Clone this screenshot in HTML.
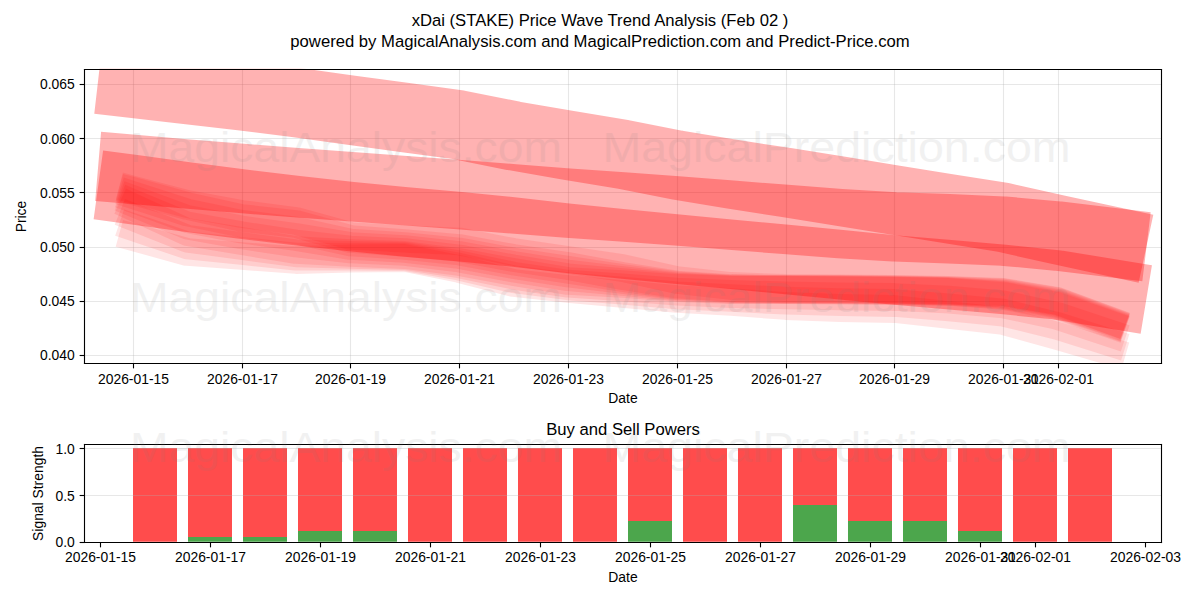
<!DOCTYPE html>
<html><head><meta charset="utf-8"><title>xDai (STAKE) Price Wave Trend Analysis</title>
<style>html,body{margin:0;padding:0;background:#fff;font-family:"Liberation Sans",sans-serif}body{width:1200px;height:600px;overflow:hidden}</style>
</head><body><svg width="1200" height="600" viewBox="0 0 864 432" style="display:block"><defs><style type="text/css">*{stroke-linejoin: round; stroke-linecap: butt}</style></defs><g id="figure_1"><g id="patch_1"><path d="M 0 432 L 864 432 L 864 0 L 0 0 z " style="fill: #ffffff"/></g><g id="axes_1"><g id="patch_2"><path d="M 60.3216 261.3816 L 835.92 261.3816 L 835.92 49.536 L 60.3216 49.536 z " style="fill: #ffffff"/></g><g id="matplotlib.axis_1"><g id="xtick_1"><g id="line2d_1"><path d="M 96.1200 261.7200 L 96.1200 50.0400" clip-path="url(#p194def67d9)" style="fill: none; stroke: #b0b0b0; stroke-opacity: 0.3; stroke-width: 0.8; stroke-linecap: square"/></g><g id="line2d_2"><defs><path id="m1504cfccaf" d="M 0 0 L 0 3.5 " style="stroke: #000000; stroke-width: 0.8"/></defs><g><use href="#m1504cfccaf" x="96.1200" y="261.7200" style="stroke: #000000; stroke-width: 0.8"/></g></g><g id="T_a1_xt0"><text x="96.12" y="276.48" text-anchor="middle" font-family="Liberation Sans, sans-serif" font-size="10" fill="#000" stroke="none">2026-01-15</text></g></g><g id="xtick_2"><g id="line2d_3"><path d="M 174.6000 261.7200 L 174.6000 50.0400" clip-path="url(#p194def67d9)" style="fill: none; stroke: #b0b0b0; stroke-opacity: 0.3; stroke-width: 0.8; stroke-linecap: square"/></g><g id="line2d_4"><g><use href="#m1504cfccaf" x="174.6000" y="261.7200" style="stroke: #000000; stroke-width: 0.8"/></g></g><g id="T_a1_xt1"><text x="174.6" y="276.48" text-anchor="middle" font-family="Liberation Sans, sans-serif" font-size="10" fill="#000" stroke="none">2026-01-17</text></g></g><g id="xtick_3"><g id="line2d_5"><path d="M 252.3600 261.7200 L 252.3600 50.0400" clip-path="url(#p194def67d9)" style="fill: none; stroke: #b0b0b0; stroke-opacity: 0.3; stroke-width: 0.8; stroke-linecap: square"/></g><g id="line2d_6"><g><use href="#m1504cfccaf" x="252.3600" y="261.7200" style="stroke: #000000; stroke-width: 0.8"/></g></g><g id="T_a1_xt2"><text x="252.36" y="276.48" text-anchor="middle" font-family="Liberation Sans, sans-serif" font-size="10" fill="#000" stroke="none">2026-01-19</text></g></g><g id="xtick_4"><g id="line2d_7"><path d="M 330.8400 261.7200 L 330.8400 50.0400" clip-path="url(#p194def67d9)" style="fill: none; stroke: #b0b0b0; stroke-opacity: 0.3; stroke-width: 0.8; stroke-linecap: square"/></g><g id="line2d_8"><g><use href="#m1504cfccaf" x="330.8400" y="261.7200" style="stroke: #000000; stroke-width: 0.8"/></g></g><g id="T_a1_xt3"><text x="330.84" y="276.48" text-anchor="middle" font-family="Liberation Sans, sans-serif" font-size="10" fill="#000" stroke="none">2026-01-21</text></g></g><g id="xtick_5"><g id="line2d_9"><path d="M 409.3200 261.7200 L 409.3200 50.0400" clip-path="url(#p194def67d9)" style="fill: none; stroke: #b0b0b0; stroke-opacity: 0.3; stroke-width: 0.8; stroke-linecap: square"/></g><g id="line2d_10"><g><use href="#m1504cfccaf" x="409.3200" y="261.7200" style="stroke: #000000; stroke-width: 0.8"/></g></g><g id="T_a1_xt4"><text x="409.32" y="276.48" text-anchor="middle" font-family="Liberation Sans, sans-serif" font-size="10" fill="#000" stroke="none">2026-01-23</text></g></g><g id="xtick_6"><g id="line2d_11"><path d="M 487.8000 261.7200 L 487.8000 50.0400" clip-path="url(#p194def67d9)" style="fill: none; stroke: #b0b0b0; stroke-opacity: 0.3; stroke-width: 0.8; stroke-linecap: square"/></g><g id="line2d_12"><g><use href="#m1504cfccaf" x="487.8000" y="261.7200" style="stroke: #000000; stroke-width: 0.8"/></g></g><g id="T_a1_xt5"><text x="487.8" y="276.48" text-anchor="middle" font-family="Liberation Sans, sans-serif" font-size="10" fill="#000" stroke="none">2026-01-25</text></g></g><g id="xtick_7"><g id="line2d_13"><path d="M 566.2800 261.7200 L 566.2800 50.0400" clip-path="url(#p194def67d9)" style="fill: none; stroke: #b0b0b0; stroke-opacity: 0.3; stroke-width: 0.8; stroke-linecap: square"/></g><g id="line2d_14"><g><use href="#m1504cfccaf" x="566.2800" y="261.7200" style="stroke: #000000; stroke-width: 0.8"/></g></g><g id="T_a1_xt6"><text x="566.28" y="276.48" text-anchor="middle" font-family="Liberation Sans, sans-serif" font-size="10" fill="#000" stroke="none">2026-01-27</text></g></g><g id="xtick_8"><g id="line2d_15"><path d="M 644.0400 261.7200 L 644.0400 50.0400" clip-path="url(#p194def67d9)" style="fill: none; stroke: #b0b0b0; stroke-opacity: 0.3; stroke-width: 0.8; stroke-linecap: square"/></g><g id="line2d_16"><g><use href="#m1504cfccaf" x="644.0400" y="261.7200" style="stroke: #000000; stroke-width: 0.8"/></g></g><g id="T_a1_xt7"><text x="644.04" y="276.48" text-anchor="middle" font-family="Liberation Sans, sans-serif" font-size="10" fill="#000" stroke="none">2026-01-29</text></g></g><g id="xtick_9"><g id="line2d_17"><path d="M 722.5200 261.7200 L 722.5200 50.0400" clip-path="url(#p194def67d9)" style="fill: none; stroke: #b0b0b0; stroke-opacity: 0.3; stroke-width: 0.8; stroke-linecap: square"/></g><g id="line2d_18"><g><use href="#m1504cfccaf" x="722.5200" y="261.7200" style="stroke: #000000; stroke-width: 0.8"/></g></g><g id="T_a1_xt8"><text x="722.52" y="276.48" text-anchor="middle" font-family="Liberation Sans, sans-serif" font-size="10" fill="#000" stroke="none">2026-01-31</text></g></g><g id="xtick_10"><g id="line2d_19"><path d="M 762.1200 261.7200 L 762.1200 50.0400" clip-path="url(#p194def67d9)" style="fill: none; stroke: #b0b0b0; stroke-opacity: 0.3; stroke-width: 0.8; stroke-linecap: square"/></g><g id="line2d_20"><g><use href="#m1504cfccaf" x="762.1200" y="261.7200" style="stroke: #000000; stroke-width: 0.8"/></g></g><g id="T_a1_xt9"><text x="762.12" y="276.48" text-anchor="middle" font-family="Liberation Sans, sans-serif" font-size="10" fill="#000" stroke="none">2026-02-01</text></g></g><g id="T_a1_xl"><text x="448.56" y="290.16" text-anchor="middle" font-family="Liberation Sans, sans-serif" font-size="10" fill="#000" stroke="none">Date</text></g></g><g id="matplotlib.axis_2"><g id="ytick_1"><g id="line2d_21"><path d="M 60.8400 255.9600 L 836.2800 255.9600" clip-path="url(#p194def67d9)" style="fill: none; stroke: #b0b0b0; stroke-opacity: 0.3; stroke-width: 0.8; stroke-linecap: square"/></g><g id="line2d_22"><defs><path id="m5d545ce8f8" d="M 0 0 L -3.5 0 " style="stroke: #000000; stroke-width: 0.8"/></defs><g><use href="#m5d545ce8f8" x="60.8400" y="255.9600" style="stroke: #000000; stroke-width: 0.8"/></g></g><g id="T_a1_yt1"><text x="53.8" y="259.2" text-anchor="end" font-family="Liberation Sans, sans-serif" font-size="10" fill="#000" stroke="none">0.040</text></g></g><g id="ytick_2"><g id="line2d_23"><path d="M 60.8400 217.0800 L 836.2800 217.0800" clip-path="url(#p194def67d9)" style="fill: none; stroke: #b0b0b0; stroke-opacity: 0.3; stroke-width: 0.8; stroke-linecap: square"/></g><g id="line2d_24"><g><use href="#m5d545ce8f8" x="60.8400" y="217.0800" style="stroke: #000000; stroke-width: 0.8"/></g></g><g id="T_a1_yt2"><text x="53.8" y="220.32" text-anchor="end" font-family="Liberation Sans, sans-serif" font-size="10" fill="#000" stroke="none">0.045</text></g></g><g id="ytick_3"><g id="line2d_25"><path d="M 60.8400 178.2000 L 836.2800 178.2000" clip-path="url(#p194def67d9)" style="fill: none; stroke: #b0b0b0; stroke-opacity: 0.3; stroke-width: 0.8; stroke-linecap: square"/></g><g id="line2d_26"><g><use href="#m5d545ce8f8" x="60.8400" y="178.2000" style="stroke: #000000; stroke-width: 0.8"/></g></g><g id="T_a1_yt3"><text x="53.8" y="181.44" text-anchor="end" font-family="Liberation Sans, sans-serif" font-size="10" fill="#000" stroke="none">0.050</text></g></g><g id="ytick_4"><g id="line2d_27"><path d="M 60.8400 138.6000 L 836.2800 138.6000" clip-path="url(#p194def67d9)" style="fill: none; stroke: #b0b0b0; stroke-opacity: 0.3; stroke-width: 0.8; stroke-linecap: square"/></g><g id="line2d_28"><g><use href="#m5d545ce8f8" x="60.8400" y="138.6000" style="stroke: #000000; stroke-width: 0.8"/></g></g><g id="T_a1_yt4"><text x="53.8" y="142.56" text-anchor="end" font-family="Liberation Sans, sans-serif" font-size="10" fill="#000" stroke="none">0.055</text></g></g><g id="ytick_5"><g id="line2d_29"><path d="M 60.8400 99.7200 L 836.2800 99.7200" clip-path="url(#p194def67d9)" style="fill: none; stroke: #b0b0b0; stroke-opacity: 0.3; stroke-width: 0.8; stroke-linecap: square"/></g><g id="line2d_30"><g><use href="#m5d545ce8f8" x="60.8400" y="99.7200" style="stroke: #000000; stroke-width: 0.8"/></g></g><g id="T_a1_yt5"><text x="53.8" y="103.68" text-anchor="end" font-family="Liberation Sans, sans-serif" font-size="10" fill="#000" stroke="none">0.060</text></g></g><g id="ytick_6"><g id="line2d_31"><path d="M 60.8400 60.8400 L 836.2800 60.8400" clip-path="url(#p194def67d9)" style="fill: none; stroke: #b0b0b0; stroke-opacity: 0.3; stroke-width: 0.8; stroke-linecap: square"/></g><g id="line2d_32"><g><use href="#m5d545ce8f8" x="60.8400" y="60.8400" style="stroke: #000000; stroke-width: 0.8"/></g></g><g id="T_a1_yt6"><text x="53.8" y="64.08" text-anchor="end" font-family="Liberation Sans, sans-serif" font-size="10" fill="#000" stroke="none">0.065</text></g></g><g id="T_a1_yl"><text transform="translate(18.72 155.9) rotate(-90)" text-anchor="middle" font-family="Liberation Sans, sans-serif" font-size="10" fill="#000" stroke="none">Price</text></g></g><g id="line2d_33"><path d="M 95.576073 59.930262 L 134.747709 64.443429 L 173.919345 68.946104 L 213.090982 73.824271 L 252.262618 79.345571 L 291.434255 84.573352 L 330.605891 89.969228 L 369.777527 97.812089 L 408.949164 104.614226 L 448.1208 111.077993 L 487.292436 118.832872 L 526.464073 125.307555 L 565.635709 131.354681 L 604.807345 137.618786 L 643.978982 144.004295 L 683.150618 150.361769 L 722.322255 156.528571 L 761.493891 165.36117 L 800.665527 173.839656 " clip-path="url(#p194def67d9)" style="fill: none; stroke: #ff0000; stroke-opacity: 0.3; stroke-width: 50; stroke-linecap: square"/></g><g id="line2d_34"><path d="M 95.576073 121.933262 L 134.747709 125.276407 L 173.919345 128.491662 L 213.090982 131.562518 L 252.262618 134.451565 L 291.434255 137.27429 L 330.605891 140.179947 L 369.777527 143.184057 L 408.949164 146.177196 L 448.1208 149.034059 L 487.292436 151.800999 L 526.464073 154.910886 L 565.635709 158.018857 L 604.807345 160.98553 L 643.978982 163.369147 L 683.150618 164.74936 L 722.322255 166.372302 L 761.493891 169.982876 L 800.665527 174.71823 " clip-path="url(#p194def67d9)" style="fill: none; stroke: #ff0000; stroke-opacity: 0.3; stroke-width: 50; stroke-linecap: square"/></g><g id="line2d_35"><path d="M 95.576073 136.45482 L 134.747709 141.854908 L 173.919345 146.86629 L 213.090982 151.513912 L 252.262618 155.822723 L 291.434255 159.756604 L 330.605891 163.149815 L 369.777527 167.038006 L 408.949164 171.460108 L 448.1208 175.569881 L 487.292436 179.337842 L 526.464073 183.032171 L 565.635709 186.71136 L 604.807345 190.561449 L 643.978982 194.394356 L 683.150618 197.781984 L 722.322255 201.207687 L 761.493891 205.17531 L 800.665527 211.642357 " clip-path="url(#p194def67d9)" style="fill: none; stroke: #ff0000; stroke-opacity: 0.3; stroke-width: 50; stroke-linecap: square"/></g><g id="line2d_36"><path d="M 95.576073 136.512 L 134.747709 146.88 L 173.919345 154.08 L 213.090982 159.12 L 252.262618 169.92 L 291.434255 172.08 L 330.605891 173.88 L 369.777527 181.44 L 408.949164 187.2 L 448.1208 192.96 L 487.292436 201.6 L 526.464073 205.92 L 565.635709 207.36 L 604.807345 207.72 L 643.978982 208.08 L 683.150618 208.8 L 722.322255 210.24 L 761.493891 216.72 L 800.665527 231.12 " clip-path="url(#p194def67d9)" style="fill: none; stroke: #ff0000; stroke-opacity: 0.1; stroke-width: 20; stroke-linecap: square"/></g><g id="line2d_37"><path d="M 95.576073 137.52 L 134.747709 148.32 L 173.919345 156.96 L 213.090982 161.28 L 252.262618 172.08 L 291.434255 174.96 L 330.605891 178.56 L 369.777527 185.76 L 408.949164 191.52 L 448.1208 198.72 L 487.292436 204.84 L 526.464073 207.36 L 565.635709 208.08 L 604.807345 208.08 L 643.978982 208.44 L 683.150618 209.16 L 722.322255 210.6 L 761.493891 217.08 L 800.665527 231.48 " clip-path="url(#p194def67d9)" style="fill: none; stroke: #ff0000; stroke-opacity: 0.1; stroke-width: 20; stroke-linecap: square"/></g><g id="line2d_38"><path d="M 95.576073 140.4 L 134.747709 153 L 173.919345 161.1 L 213.090982 165.96 L 252.262618 174.6 L 291.434255 177.12 L 330.605891 181.08 L 369.777527 188.28 L 408.949164 194.22 L 448.1208 200.16 L 487.292436 205.47 L 526.464073 207.72 L 565.635709 208.26 L 604.807345 208.35 L 643.978982 208.71 L 683.150618 209.43 L 722.322255 211.23 L 761.493891 217.89 L 800.665527 232.11 " clip-path="url(#p194def67d9)" style="fill: none; stroke: #ff0000; stroke-opacity: 0.1; stroke-width: 20; stroke-linecap: square"/></g><g id="line2d_39"><path d="M 95.576073 143.28 L 134.747709 157.68 L 173.919345 165.24 L 213.090982 170.64 L 252.262618 177.12 L 291.434255 179.28 L 330.605891 183.6 L 369.777527 190.8 L 408.949164 196.92 L 448.1208 201.6 L 487.292436 206.1 L 526.464073 208.08 L 565.635709 208.44 L 604.807345 208.62 L 643.978982 208.98 L 683.150618 209.7 L 722.322255 211.86 L 761.493891 218.7 L 800.665527 232.74 " clip-path="url(#p194def67d9)" style="fill: none; stroke: #ff0000; stroke-opacity: 0.1; stroke-width: 20; stroke-linecap: square"/></g><g id="line2d_40"><path d="M 95.576073 146.16 L 134.747709 162.36 L 173.919345 169.38 L 213.090982 175.32 L 252.262618 179.64 L 291.434255 181.44 L 330.605891 186.12 L 369.777527 193.32 L 408.949164 199.62 L 448.1208 203.04 L 487.292436 206.73 L 526.464073 208.44 L 565.635709 208.62 L 604.807345 208.89 L 643.978982 209.25 L 683.150618 209.97 L 722.322255 212.49 L 761.493891 219.51 L 800.665527 233.37 " clip-path="url(#p194def67d9)" style="fill: none; stroke: #ff0000; stroke-opacity: 0.1; stroke-width: 20; stroke-linecap: square"/></g><g id="line2d_41"><path d="M 95.576073 149.04 L 134.747709 167.04 L 173.919345 173.52 L 213.090982 180 L 252.262618 182.16 L 291.434255 183.6 L 330.605891 188.64 L 369.777527 195.84 L 408.949164 202.32 L 448.1208 204.48 L 487.292436 207.36 L 526.464073 208.8 L 565.635709 208.8 L 604.807345 209.16 L 643.978982 209.52 L 683.150618 210.24 L 722.322255 213.12 L 761.493891 220.32 L 800.665527 234 " clip-path="url(#p194def67d9)" style="fill: none; stroke: #ff0000; stroke-opacity: 0.1; stroke-width: 20; stroke-linecap: square"/></g><g id="line2d_42"><path d="M 95.576073 156.24 L 134.747709 171.84 L 173.919345 177.12 L 213.090982 182.4 L 252.262618 183.48 L 291.434255 184.32 L 330.605891 190.32 L 369.777527 198.48 L 408.949164 204.24 L 448.1208 206.88 L 487.292436 210 L 526.464073 211.68 L 565.635709 212.64 L 604.807345 213.36 L 643.978982 213.84 L 683.150618 215.76 L 722.322255 219.12 L 761.493891 227.52 L 800.665527 240.48 " clip-path="url(#p194def67d9)" style="fill: none; stroke: #ff0000; stroke-opacity: 0.1; stroke-width: 20; stroke-linecap: square"/></g><g id="line2d_43"><path d="M 95.576073 163.44 L 134.747709 176.64 L 173.919345 180.72 L 213.090982 184.8 L 252.262618 184.8 L 291.434255 185.04 L 330.605891 192 L 369.777527 201.12 L 408.949164 206.16 L 448.1208 209.28 L 487.292436 212.64 L 526.464073 214.56 L 565.635709 216.48 L 604.807345 217.56 L 643.978982 218.16 L 683.150618 221.28 L 722.322255 225.12 L 761.493891 234.72 L 800.665527 246.96 " clip-path="url(#p194def67d9)" style="fill: none; stroke: #ff0000; stroke-opacity: 0.1; stroke-width: 20; stroke-linecap: square"/></g><g id="line2d_44"><path d="M 95.576073 170.64 L 134.747709 181.44 L 173.919345 184.32 L 213.090982 187.2 L 252.262618 186.12 L 291.434255 185.76 L 330.605891 193.68 L 369.777527 203.76 L 408.949164 208.08 L 448.1208 211.68 L 487.292436 215.28 L 526.464073 217.44 L 565.635709 220.32 L 604.807345 221.76 L 643.978982 222.48 L 683.150618 226.8 L 722.322255 231.12 L 761.493891 241.92 L 800.665527 253.44 " clip-path="url(#p194def67d9)" style="fill: none; stroke: #ff0000; stroke-opacity: 0.1; stroke-width: 20; stroke-linecap: square"/></g><g id="patch_3"><path d="M 60.8400 261.7200 L 60.8400 50.0400" style="fill: none; stroke: #000000; stroke-width: 0.8; stroke-linejoin: miter; stroke-linecap: square"/></g><g id="patch_4"><path d="M 836.2800 261.7200 L 836.2800 50.0400" style="fill: none; stroke: #000000; stroke-width: 0.8; stroke-linejoin: miter; stroke-linecap: square"/></g><g id="patch_5"><path d="M 60.8400 261.7200 L 836.2800 261.7200" style="fill: none; stroke: #000000; stroke-width: 0.8; stroke-linejoin: miter; stroke-linecap: square"/></g><g id="patch_6"><path d="M 60.8400 50.0400 L 836.2800 50.0400" style="fill: none; stroke: #000000; stroke-width: 0.8; stroke-linejoin: miter; stroke-linecap: square"/></g></g><g id="axes_2"><g id="patch_7"><path d="M 60.3216 390.0384 L 835.92 390.0384 L 835.92 319.4208 L 60.3216 319.4208 z " style="fill: #ffffff"/></g><g id="patch_8"><path d="M 95.7600 390.2400 L 127.4400 390.2400 L 127.4400 390.2400 L 95.7600 390.2400 z" clip-path="url(#p43a267ccc6)" style="fill: #008000; opacity: 0.7"/></g><g id="patch_9"><path d="M 135.3600 390.2400 L 167.0400 390.2400 L 167.0400 386.6400 L 135.3600 386.6400 z" clip-path="url(#p43a267ccc6)" style="fill: #008000; opacity: 0.7"/></g><g id="patch_10"><path d="M 174.9600 390.2400 L 206.6400 390.2400 L 206.6400 386.6400 L 174.9600 386.6400 z" clip-path="url(#p43a267ccc6)" style="fill: #008000; opacity: 0.7"/></g><g id="patch_11"><path d="M 214.5600 390.2400 L 246.2400 390.2400 L 246.2400 382.3200 L 214.5600 382.3200 z" clip-path="url(#p43a267ccc6)" style="fill: #008000; opacity: 0.7"/></g><g id="patch_12"><path d="M 254.1600 390.2400 L 285.8400 390.2400 L 285.8400 382.3200 L 254.1600 382.3200 z" clip-path="url(#p43a267ccc6)" style="fill: #008000; opacity: 0.7"/></g><g id="patch_13"><path d="M 293.7600 390.2400 L 325.4400 390.2400 L 325.4400 390.2400 L 293.7600 390.2400 z" clip-path="url(#p43a267ccc6)" style="fill: #008000; opacity: 0.7"/></g><g id="patch_14"><path d="M 333.3600 390.2400 L 365.0400 390.2400 L 365.0400 390.2400 L 333.3600 390.2400 z" clip-path="url(#p43a267ccc6)" style="fill: #008000; opacity: 0.7"/></g><g id="patch_15"><path d="M 372.9600 390.2400 L 404.6400 390.2400 L 404.6400 390.2400 L 372.9600 390.2400 z" clip-path="url(#p43a267ccc6)" style="fill: #008000; opacity: 0.7"/></g><g id="patch_16"><path d="M 412.5600 390.2400 L 444.2400 390.2400 L 444.2400 390.2400 L 412.5600 390.2400 z" clip-path="url(#p43a267ccc6)" style="fill: #008000; opacity: 0.7"/></g><g id="patch_17"><path d="M 452.1600 390.2400 L 483.8400 390.2400 L 483.8400 375.1200 L 452.1600 375.1200 z" clip-path="url(#p43a267ccc6)" style="fill: #008000; opacity: 0.7"/></g><g id="patch_18"><path d="M 491.7600 390.2400 L 523.4400 390.2400 L 523.4400 390.2400 L 491.7600 390.2400 z" clip-path="url(#p43a267ccc6)" style="fill: #008000; opacity: 0.7"/></g><g id="patch_19"><path d="M 531.3600 390.2400 L 563.0400 390.2400 L 563.0400 390.2400 L 531.3600 390.2400 z" clip-path="url(#p43a267ccc6)" style="fill: #008000; opacity: 0.7"/></g><g id="patch_20"><path d="M 570.9600 390.2400 L 602.6400 390.2400 L 602.6400 363.6000 L 570.9600 363.6000 z" clip-path="url(#p43a267ccc6)" style="fill: #008000; opacity: 0.7"/></g><g id="patch_21"><path d="M 610.5600 390.2400 L 642.2400 390.2400 L 642.2400 375.1200 L 610.5600 375.1200 z" clip-path="url(#p43a267ccc6)" style="fill: #008000; opacity: 0.7"/></g><g id="patch_22"><path d="M 650.1600 390.2400 L 681.8400 390.2400 L 681.8400 375.1200 L 650.1600 375.1200 z" clip-path="url(#p43a267ccc6)" style="fill: #008000; opacity: 0.7"/></g><g id="patch_23"><path d="M 689.7600 390.2400 L 721.4400 390.2400 L 721.4400 382.3200 L 689.7600 382.3200 z" clip-path="url(#p43a267ccc6)" style="fill: #008000; opacity: 0.7"/></g><g id="patch_24"><path d="M 729.3600 390.2400 L 761.0400 390.2400 L 761.0400 390.2400 L 729.3600 390.2400 z" clip-path="url(#p43a267ccc6)" style="fill: #008000; opacity: 0.7"/></g><g id="patch_25"><path d="M 768.9600 390.2400 L 800.6400 390.2400 L 800.6400 390.2400 L 768.9600 390.2400 z" clip-path="url(#p43a267ccc6)" style="fill: #008000; opacity: 0.7"/></g><g id="patch_26"><path d="M 95.7600 390.2400 L 127.4400 390.2400 L 127.4400 322.5600 L 95.7600 322.5600 z" clip-path="url(#p43a267ccc6)" style="fill: #ff0000; opacity: 0.7"/></g><g id="patch_27"><path d="M 135.3600 386.6400 L 167.0400 386.6400 L 167.0400 322.5600 L 135.3600 322.5600 z" clip-path="url(#p43a267ccc6)" style="fill: #ff0000; opacity: 0.7"/></g><g id="patch_28"><path d="M 174.9600 386.6400 L 206.6400 386.6400 L 206.6400 322.5600 L 174.9600 322.5600 z" clip-path="url(#p43a267ccc6)" style="fill: #ff0000; opacity: 0.7"/></g><g id="patch_29"><path d="M 214.5600 382.3200 L 246.2400 382.3200 L 246.2400 322.5600 L 214.5600 322.5600 z" clip-path="url(#p43a267ccc6)" style="fill: #ff0000; opacity: 0.7"/></g><g id="patch_30"><path d="M 254.1600 382.3200 L 285.8400 382.3200 L 285.8400 322.5600 L 254.1600 322.5600 z" clip-path="url(#p43a267ccc6)" style="fill: #ff0000; opacity: 0.7"/></g><g id="patch_31"><path d="M 293.7600 390.2400 L 325.4400 390.2400 L 325.4400 322.5600 L 293.7600 322.5600 z" clip-path="url(#p43a267ccc6)" style="fill: #ff0000; opacity: 0.7"/></g><g id="patch_32"><path d="M 333.3600 390.2400 L 365.0400 390.2400 L 365.0400 322.5600 L 333.3600 322.5600 z" clip-path="url(#p43a267ccc6)" style="fill: #ff0000; opacity: 0.7"/></g><g id="patch_33"><path d="M 372.9600 390.2400 L 404.6400 390.2400 L 404.6400 322.5600 L 372.9600 322.5600 z" clip-path="url(#p43a267ccc6)" style="fill: #ff0000; opacity: 0.7"/></g><g id="patch_34"><path d="M 412.5600 390.2400 L 444.2400 390.2400 L 444.2400 322.5600 L 412.5600 322.5600 z" clip-path="url(#p43a267ccc6)" style="fill: #ff0000; opacity: 0.7"/></g><g id="patch_35"><path d="M 452.1600 375.1200 L 483.8400 375.1200 L 483.8400 322.5600 L 452.1600 322.5600 z" clip-path="url(#p43a267ccc6)" style="fill: #ff0000; opacity: 0.7"/></g><g id="patch_36"><path d="M 491.7600 390.2400 L 523.4400 390.2400 L 523.4400 322.5600 L 491.7600 322.5600 z" clip-path="url(#p43a267ccc6)" style="fill: #ff0000; opacity: 0.7"/></g><g id="patch_37"><path d="M 531.3600 390.2400 L 563.0400 390.2400 L 563.0400 322.5600 L 531.3600 322.5600 z" clip-path="url(#p43a267ccc6)" style="fill: #ff0000; opacity: 0.7"/></g><g id="patch_38"><path d="M 570.9600 363.6000 L 602.6400 363.6000 L 602.6400 322.5600 L 570.9600 322.5600 z" clip-path="url(#p43a267ccc6)" style="fill: #ff0000; opacity: 0.7"/></g><g id="patch_39"><path d="M 610.5600 375.1200 L 642.2400 375.1200 L 642.2400 322.5600 L 610.5600 322.5600 z" clip-path="url(#p43a267ccc6)" style="fill: #ff0000; opacity: 0.7"/></g><g id="patch_40"><path d="M 650.1600 375.1200 L 681.8400 375.1200 L 681.8400 322.5600 L 650.1600 322.5600 z" clip-path="url(#p43a267ccc6)" style="fill: #ff0000; opacity: 0.7"/></g><g id="patch_41"><path d="M 689.7600 382.3200 L 721.4400 382.3200 L 721.4400 322.5600 L 689.7600 322.5600 z" clip-path="url(#p43a267ccc6)" style="fill: #ff0000; opacity: 0.7"/></g><g id="patch_42"><path d="M 729.3600 390.2400 L 761.0400 390.2400 L 761.0400 322.5600 L 729.3600 322.5600 z" clip-path="url(#p43a267ccc6)" style="fill: #ff0000; opacity: 0.7"/></g><g id="patch_43"><path d="M 768.9600 390.2400 L 800.6400 390.2400 L 800.6400 322.5600 L 768.9600 322.5600 z" clip-path="url(#p43a267ccc6)" style="fill: #ff0000; opacity: 0.7"/></g><g id="matplotlib.axis_3"><g id="xtick_11"><g id="line2d_45"><g><use href="#m1504cfccaf" x="72.3600" y="390.6000" style="stroke: #000000; stroke-width: 0.8"/></g></g><g id="T_a2_xt0"><text x="72.36" y="404.64" text-anchor="middle" font-family="Liberation Sans, sans-serif" font-size="10" fill="#000" stroke="none">2026-01-15</text></g></g><g id="xtick_12"><g id="line2d_46"><g><use href="#m1504cfccaf" x="151.5600" y="390.6000" style="stroke: #000000; stroke-width: 0.8"/></g></g><g id="T_a2_xt1"><text x="151.56" y="404.64" text-anchor="middle" font-family="Liberation Sans, sans-serif" font-size="10" fill="#000" stroke="none">2026-01-17</text></g></g><g id="xtick_13"><g id="line2d_47"><g><use href="#m1504cfccaf" x="230.7600" y="390.6000" style="stroke: #000000; stroke-width: 0.8"/></g></g><g id="T_a2_xt2"><text x="230.76" y="404.64" text-anchor="middle" font-family="Liberation Sans, sans-serif" font-size="10" fill="#000" stroke="none">2026-01-19</text></g></g><g id="xtick_14"><g id="line2d_48"><g><use href="#m1504cfccaf" x="309.9600" y="390.6000" style="stroke: #000000; stroke-width: 0.8"/></g></g><g id="T_a2_xt3"><text x="309.96" y="404.64" text-anchor="middle" font-family="Liberation Sans, sans-serif" font-size="10" fill="#000" stroke="none">2026-01-21</text></g></g><g id="xtick_15"><g id="line2d_49"><g><use href="#m1504cfccaf" x="389.1600" y="390.6000" style="stroke: #000000; stroke-width: 0.8"/></g></g><g id="T_a2_xt4"><text x="389.16" y="404.64" text-anchor="middle" font-family="Liberation Sans, sans-serif" font-size="10" fill="#000" stroke="none">2026-01-23</text></g></g><g id="xtick_16"><g id="line2d_50"><g><use href="#m1504cfccaf" x="468.3600" y="390.6000" style="stroke: #000000; stroke-width: 0.8"/></g></g><g id="T_a2_xt5"><text x="468.36" y="404.64" text-anchor="middle" font-family="Liberation Sans, sans-serif" font-size="10" fill="#000" stroke="none">2026-01-25</text></g></g><g id="xtick_17"><g id="line2d_51"><g><use href="#m1504cfccaf" x="547.5600" y="390.6000" style="stroke: #000000; stroke-width: 0.8"/></g></g><g id="T_a2_xt6"><text x="547.56" y="404.64" text-anchor="middle" font-family="Liberation Sans, sans-serif" font-size="10" fill="#000" stroke="none">2026-01-27</text></g></g><g id="xtick_18"><g id="line2d_52"><g><use href="#m1504cfccaf" x="626.7600" y="390.6000" style="stroke: #000000; stroke-width: 0.8"/></g></g><g id="T_a2_xt7"><text x="626.76" y="404.64" text-anchor="middle" font-family="Liberation Sans, sans-serif" font-size="10" fill="#000" stroke="none">2026-01-29</text></g></g><g id="xtick_19"><g id="line2d_53"><g><use href="#m1504cfccaf" x="705.9600" y="390.6000" style="stroke: #000000; stroke-width: 0.8"/></g></g><g id="T_a2_xt8"><text x="705.96" y="404.64" text-anchor="middle" font-family="Liberation Sans, sans-serif" font-size="10" fill="#000" stroke="none">2026-01-31</text></g></g><g id="xtick_20"><g id="line2d_54"><g><use href="#m1504cfccaf" x="745.5600" y="390.6000" style="stroke: #000000; stroke-width: 0.8"/></g></g><g id="T_a2_xt9"><text x="745.56" y="404.64" text-anchor="middle" font-family="Liberation Sans, sans-serif" font-size="10" fill="#000" stroke="none">2026-02-01</text></g></g><g id="xtick_21"><g id="line2d_55"><g><use href="#m1504cfccaf" x="824.7600" y="390.6000" style="stroke: #000000; stroke-width: 0.8"/></g></g><g id="T_a2_xt10"><text x="824.76" y="404.64" text-anchor="middle" font-family="Liberation Sans, sans-serif" font-size="10" fill="#000" stroke="none">2026-02-03</text></g></g><g id="T_a2_xl"><text x="448.56" y="419.04" text-anchor="middle" font-family="Liberation Sans, sans-serif" font-size="10" fill="#000" stroke="none">Date</text></g></g><g id="matplotlib.axis_4"><g id="ytick_7"><g id="line2d_56"><path d="M 60.8400 390.6000 L 836.2800 390.6000" clip-path="url(#p43a267ccc6)" style="fill: none; stroke: #b0b0b0; stroke-opacity: 0.3; stroke-width: 0.8; stroke-linecap: square"/></g><g id="line2d_57"><g><use href="#m5d545ce8f8" x="60.8400" y="390.6000" style="stroke: #000000; stroke-width: 0.8"/></g></g><g id="T_a2_yt0"><text x="53.8" y="393.84" text-anchor="end" font-family="Liberation Sans, sans-serif" font-size="10" fill="#000" stroke="none">0.0</text></g></g><g id="ytick_8"><g id="line2d_58"><path d="M 60.8400 356.7600 L 836.2800 356.7600" clip-path="url(#p43a267ccc6)" style="fill: none; stroke: #b0b0b0; stroke-opacity: 0.3; stroke-width: 0.8; stroke-linecap: square"/></g><g id="line2d_59"><g><use href="#m5d545ce8f8" x="60.8400" y="356.7600" style="stroke: #000000; stroke-width: 0.8"/></g></g><g id="T_a2_yt1"><text x="53.8" y="360.72" text-anchor="end" font-family="Liberation Sans, sans-serif" font-size="10" fill="#000" stroke="none">0.5</text></g></g><g id="ytick_9"><g id="line2d_60"><path d="M 60.8400 322.9200 L 836.2800 322.9200" clip-path="url(#p43a267ccc6)" style="fill: none; stroke: #b0b0b0; stroke-opacity: 0.3; stroke-width: 0.8; stroke-linecap: square"/></g><g id="line2d_61"><g><use href="#m5d545ce8f8" x="60.8400" y="322.9200" style="stroke: #000000; stroke-width: 0.8"/></g></g><g id="T_a2_yt2"><text x="53.8" y="326.88" text-anchor="end" font-family="Liberation Sans, sans-serif" font-size="10" fill="#000" stroke="none">1.0</text></g></g><g id="T_a2_yl"><text transform="translate(30.96 355.3) rotate(-90)" text-anchor="middle" font-family="Liberation Sans, sans-serif" font-size="10" fill="#000" stroke="none">Signal Strength</text></g></g><g id="patch_44"><path d="M 60.8400 390.6000 L 60.8400 320.0400" style="fill: none; stroke: #000000; stroke-width: 0.8; stroke-linejoin: miter; stroke-linecap: square"/></g><g id="patch_45"><path d="M 836.2800 390.6000 L 836.2800 320.0400" style="fill: none; stroke: #000000; stroke-width: 0.8; stroke-linejoin: miter; stroke-linecap: square"/></g><g id="patch_46"><path d="M 60.8400 390.6000 L 836.2800 390.6000" style="fill: none; stroke: #000000; stroke-width: 0.8; stroke-linejoin: miter; stroke-linecap: square"/></g><g id="patch_47"><path d="M 60.8400 320.0400 L 836.2800 320.0400" style="fill: none; stroke: #000000; stroke-width: 0.8; stroke-linejoin: miter; stroke-linecap: square"/></g><g id="T_t2"><text x="448.56" y="313.2" text-anchor="middle" font-family="Liberation Sans, sans-serif" font-size="12" fill="#000" stroke="none">Buy and Sell Powers</text></g></g><g id="T_sup1"><text x="432" y="18.72" text-anchor="middle" font-family="Liberation Sans, sans-serif" font-size="12" fill="#000" stroke="none">xDai (STAKE) Price Wave Trend Analysis (Feb 02 )</text></g><g id="T_sup2"><text x="432" y="33.84" text-anchor="middle" font-family="Liberation Sans, sans-serif" font-size="12" fill="#000" stroke="none">powered by MagicalAnalysis.com and MagicalPrediction.com and Predict-Price.com</text></g><g id="T_wm0"><g style="fill: #808080; opacity: 0.1"><text x="93.6" y="116.64" textLength="311" lengthAdjust="spacingAndGlyphs" font-family="Liberation Sans, sans-serif" font-size="30" stroke="none">MagicalAnalysis.com</text><text x="433.8" y="116.64" textLength="337" lengthAdjust="spacingAndGlyphs" font-family="Liberation Sans, sans-serif" font-size="30" stroke="none">MagicalPrediction.com</text></g></g><g id="T_wm1"><g style="fill: #808080; opacity: 0.1"><text x="93.6" y="224.64" textLength="311" lengthAdjust="spacingAndGlyphs" font-family="Liberation Sans, sans-serif" font-size="30" stroke="none">MagicalAnalysis.com</text><text x="433.8" y="224.64" textLength="337" lengthAdjust="spacingAndGlyphs" font-family="Liberation Sans, sans-serif" font-size="30" stroke="none">MagicalPrediction.com</text></g></g><g id="T_wm2"><g style="fill: #808080; opacity: 0.1"><text x="93.6" y="332.64" textLength="311" lengthAdjust="spacingAndGlyphs" font-family="Liberation Sans, sans-serif" font-size="30" stroke="none">MagicalAnalysis.com</text><text x="433.8" y="332.64" textLength="337" lengthAdjust="spacingAndGlyphs" font-family="Liberation Sans, sans-serif" font-size="30" stroke="none">MagicalPrediction.com</text></g></g></g><defs><clipPath id="p194def67d9"><rect x="60.3216" y="49.536" width="775.5984" height="211.8456"/></clipPath><clipPath id="p43a267ccc6"><rect x="60.3216" y="319.4208" width="775.5984" height="70.6176"/></clipPath></defs></svg> </body></html>
